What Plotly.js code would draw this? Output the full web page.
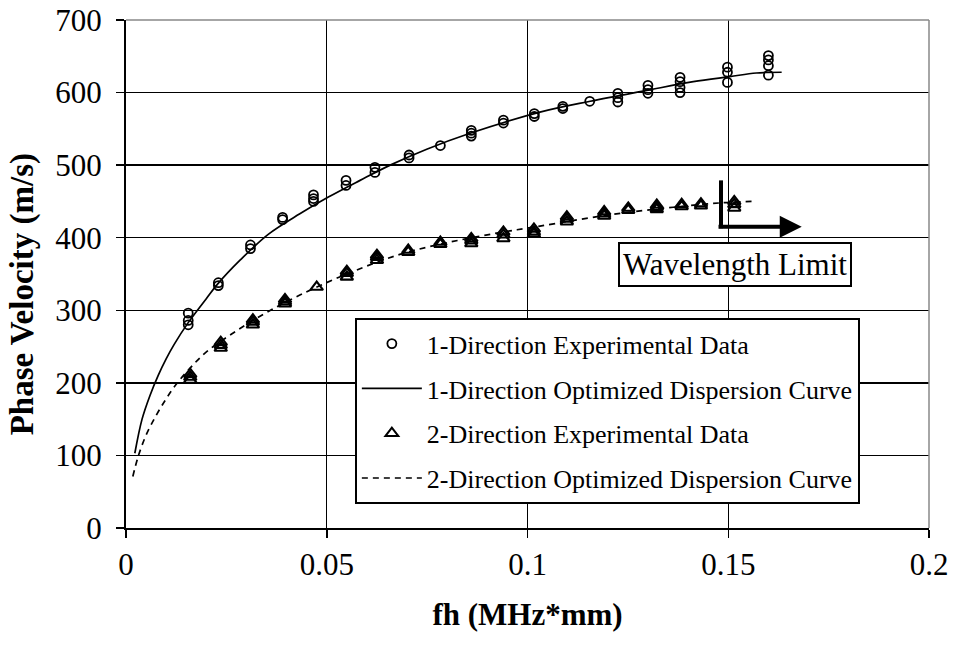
<!DOCTYPE html>
<html>
<head>
<meta charset="utf-8">
<script src="https://cdn.plot.ly/plotly-3.0.1.min.js"></script>
<style>html,body{margin:0;padding:0;background:#fff;}#chart{width:954px;height:649px;}</style>
</head>
<body>
<div id="chart"></div>
<script>
// 1-Direction experimental data (fh, phase velocity)
var exp1X = [0.0155,0.0155,0.0155, 0.0230,0.0230, 0.0310,0.0310, 0.0390,0.0390, 0.0467,0.0467,0.0467,
             0.0548,0.0548, 0.0620,0.0620, 0.0705,0.0705, 0.0783, 0.0860,0.0860,0.0860, 0.0940,0.0940,
             0.1017,0.1017, 0.1088,0.1088, 0.1155, 0.1225,0.1225,0.1225, 0.1300,0.1300,0.1300,
             0.1380,0.1380,0.1380,0.1380, 0.1498,0.1498,0.1498, 0.1600,0.1600,0.1600,0.1600];
var exp1Y = [296,286,280, 338,334, 390,385, 428,425, 459,454,450,
             479,472, 497,490, 514,510, 527, 548,544,540, 562,558,
             571,567, 581,578, 588, 599,593,587, 610,604,599,
             621,615,607,600, 635,628,614, 651,645,637,624];
// 1-Direction optimized dispersion curve
var fit1X = [0.0022,0.0040,0.0060,0.0080,0.0100,0.0120,0.0155,0.0200,0.0228,0.0284,0.0355,0.0433,0.0504,
             0.0583,0.0658,0.0749,0.0857,0.1031,0.1156,0.1297,0.1413,0.1504,0.1570,0.1633];
var fit1Y = [103,150,183,210,233,253,283,316,336,369,405,433,456,
             479,500,522,544,573,588,603,615,622,627,628];
// 2-Direction experimental data
var exp2X = [0.0160,0.0160,0.0160, 0.0236,0.0236,0.0236, 0.0316,0.0316,0.0316, 0.0396,0.0396,0.0396, 0.0475,
             0.0550,0.0550,0.0550, 0.0625,0.0625,0.0625, 0.0703,0.0703, 0.0783,0.0783, 0.0860,0.0860,0.0860,
             0.0940,0.0940,0.0940, 0.1016,0.1016,0.1016, 0.1098,0.1098,0.1098, 0.1191,0.1191,0.1191,
             0.1251,0.1251, 0.1322,0.1322,0.1322, 0.1384,0.1384, 0.1432,0.1432, 0.1515,0.1515,0.1515];
var exp2Y = [212,208,204, 256,252,248, 287,284,280, 315,312,309, 332,
             354,351,346, 376,373,369, 383,380, 394,391, 399,396,392,
             408,404,399, 412,408,405, 429,426,422, 436,433,430,
             441,438, 445,442,439, 446,443, 447,444, 450,446,441];
// 2-Direction optimized dispersion curve
var fit2X = [0.0017,0.0030,0.0050,0.0075,0.0100,0.0125,0.0159,0.0201,0.0276,0.0350,0.0433,0.0550,0.0682,
             0.0807,0.0931,0.1031,0.1197,0.1363,0.1480,0.1558];
var fit2Y = [71,98,128,155,178,198,220,243,272,297,321,350,377,
             394,407,416,431,442,448,450];

var serif = "'Liberation Serif', 'Times New Roman', serif";

var traces = [
  {x: exp1X, y: exp1Y, type: 'scatter', mode: 'markers', name: '1-Direction Experimental Data', legendgroup: 'a',
   marker: {symbol: 'circle-open', size: 9, color: '#000', line: {width: 1.8, color: '#000'}}},
  {x: fit1X, y: fit1Y, type: 'scatter', mode: 'lines', name: '1-Direction Optimized Dispersion Curve', legendgroup: 'b',
   line: {color: '#000', width: 1.7, shape: 'spline'}},
  {x: exp2X, y: exp2Y, type: 'scatter', mode: 'markers', name: '2-Direction Experimental Data', legendgroup: 'c',
   marker: {symbol: 'triangle-up-open', size: 11, color: '#000', line: {width: 2.1, color: '#000'}}},
  {x: fit2X, y: fit2Y, type: 'scatter', mode: 'lines', name: '2-Direction Optimized Dispersion Curve', legendgroup: 'd',
   line: {color: '#000', width: 1.7, dash: '6px,5px', shape: 'spline'}}
];

var layout = {
  width: 954, height: 649,
  margin: {l: 126, r: 25, t: 20, b: 121},
  paper_bgcolor: '#fff', plot_bgcolor: '#fff',
  font: {family: serif, color: '#000', size: 30},
  showlegend: true,
  legend: {x: 0.285, y: 0.413, xanchor: 'left', yanchor: 'top', bgcolor: '#fff',
           bordercolor: '#000', borderwidth: 2, font: {family: serif, size: 26, color: '#000'},
           tracegroupgap: 8, itemwidth: 60},
  xaxis: {range: [0, 0.2], dtick: 0.05, tick0: 0, showgrid: true, gridcolor: '#000', gridwidth: 1.3,
          zeroline: false, showline: true, linecolor: '#000', linewidth: 2,
          ticks: 'outside', ticklen: 8, tickwidth: 1.5, tickcolor: '#000',
          tickfont: {family: serif, size: 31, color: '#000'},
          title: {text: '<b>fh (MHz*mm)</b>', font: {family: serif, size: 31, color: '#000'}, standoff: 22}},
  yaxis: {range: [0, 700], dtick: 100, tick0: 0, showgrid: true, gridcolor: '#000', gridwidth: 1.3,
          zeroline: false, showline: true, linecolor: '#000', linewidth: 2,
          ticks: 'outside', ticklen: 8, tickwidth: 1.5, tickcolor: '#000', ticklabelstandoff: 8,
          tickfont: {family: serif, size: 31, color: '#000'}},
  shapes: [
    {type: 'line', xref: 'paper', yref: 'paper', x0: 0, x1: 1, y0: 1, y1: 1, line: {color: '#888', width: 1.5}},
    {type: 'line', xref: 'paper', yref: 'paper', x0: 1, x1: 1, y0: 0, y1: 1, line: {color: '#888', width: 1.5}},
    {type: 'line', xref: 'x', yref: 'y', x0: 0.1482, x1: 0.1482, y0: 479, y1: 413, line: {color: '#000', width: 4}}
  ],
  annotations: [
    {x: 0.1683, y: 415, ax: 0.1472, ay: 415, xref: 'x', yref: 'y', axref: 'x', ayref: 'y',
     text: '', showarrow: true, arrowhead: 2, arrowsize: 1.1, arrowwidth: 4, arrowcolor: '#000', standoff: 0},
    {x: 0.1517, y: 363, xref: 'x', yref: 'y', text: 'Wavelength Limit', showarrow: false,
     font: {family: serif, size: 31, color: '#000'}, bgcolor: '#fff', bordercolor: '#000', borderwidth: 2, borderpad: 3},
    {x: -0.1295, y: 0.46, xref: 'paper', yref: 'paper', xanchor: 'center', yanchor: 'middle', textangle: -90,
     text: '<b>Phase Velocity (m/s)</b>', showarrow: false, font: {family: serif, size: 33, color: '#000'}}
  ]
};

Plotly.newPlot('chart', traces, layout, {displayModeBar: false, staticPlot: true});
</script>
</body>
</html>
